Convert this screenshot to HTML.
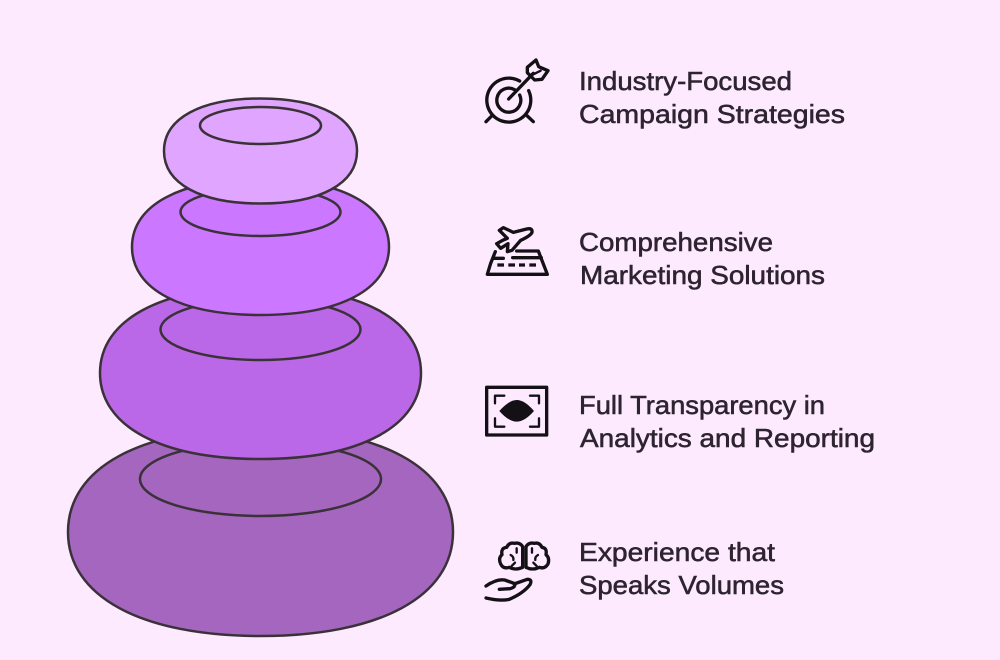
<!DOCTYPE html>
<html><head><meta charset="utf-8"><style>
html,body{margin:0;padding:0;background:#fdeaff}
svg{display:block}
text{font-family:"Liberation Sans",sans-serif;font-size:26px;fill:#2e2430;stroke:#2e2430;stroke-width:.55}
.s{stroke:#3a3238;stroke-width:2.5}
.i{fill:none;stroke:#141016;stroke-width:10;stroke-linecap:round;stroke-linejoin:round}
</style></head><body>
<svg width="1000" height="660" viewBox="0 0 1000 660" xmlns="http://www.w3.org/2000/svg">
<rect width="1000" height="660" fill="#fdeaff"/>

<path class="s" fill="#a566c0" d="M68,532C68,467.500 141.100,428 260.500,428C379.900,428 453,467.500 453,532C453,596.500 379.900,636 260.500,636C141.100,636 68,596.500 68,532Z"/>
<ellipse class="s" fill="#a566c0" cx="260.500" cy="479" rx="120.500" ry="37"/>
<path class="s" fill="#bb68e8" d="M100,373C100,319.700 161,287 260.500,287C360,287 421,319.700 421,373C421,426.300 360,459 260.500,459C161,459 100,426.300 100,373Z"/>
<ellipse class="s" fill="#bb68e8" cx="260.500" cy="329.500" rx="100" ry="30.500"/>
<path class="s" fill="#cc77ff" d="M132,247C132,204.800 180.800,179 260.500,179C340.200,179 389,204.800 389,247C389,289.200 340.200,315 260.500,315C180.800,315 132,289.200 132,247Z"/>
<ellipse class="s" fill="#cc77ff" cx="260.500" cy="212" rx="80" ry="24"/>
<path class="s" fill="#e0a6ff" d="M164,151C164,118.400 200.700,98.500 260.500,98.500C320.300,98.500 357,118.400 357,151C357,183.600 320.300,203.500 260.500,203.500C200.700,203.500 164,183.600 164,151Z"/>
<ellipse class="s" fill="#e0a6ff" cx="260.500" cy="125.500" rx="60.500" ry="18.500"/>

<g transform="translate(470,50) scale(.3333)">
<path class="i" d="M149,93A66,66 0 1 0 176,122"/>
<path class="i" d="M134,119A36,36 0 1 0 149,135"/>
<path class="i" d="M116,147L190,70M48,215L65,198M190,215L172,198"/>
<path class="i" d="M172,52L198,30L206,50L234,62L216,88L194,90L172,68Z"/>
<path class="i" style="stroke-width:7" d="M188,74L212,62"/>
</g>

<g transform="translate(470,215) scale(.3333)">
<path class="i" d="M88,46L100,38L130,52L170,42Q188,38 186,52Q182,62 152,76L126,106L112,110L114,86L92,100L80,86L98,76L112,70Z"/>
<path class="i" d="M76,110L62,145L52,178L232,178L205,108L140,108M70,130L100,130M128,128L214,128"/>
<path d="M82,150H102M115,150H135M147,150H165M178,150H198" fill="none" stroke="#141016" stroke-width="10"/>
</g>

<g transform="translate(470,375) scale(.3333)">
<rect class="i" x="50" y="37" width="180" height="143"/>
<path class="i" style="stroke-width:7" d="M75,85V62H103M180,62H207V85M75,130V155H103M207,130V155H180"/>
<path fill="#141016" d="M88,108Q118,75 140,75Q164,75 192,108Q164,140 140,140Q116,140 88,108Z"/>
</g>

<g transform="translate(470,530) scale(.3333)">
<path class="i" d="M158,112V50Q150,36 132,40Q118,36 110,52Q92,54 96,74Q84,84 92,102Q100,118 118,112Q136,122 158,112Z"/>
<path class="i" d="M168,112V50Q176,36 194,40Q208,36 216,52Q232,54 228,74Q240,84 234,102Q224,118 208,112Q188,122 168,112Z"/>
<path class="i" style="stroke-width:7" d="M140,55V68M122,75Q132,80 130,90M186,55V68M204,75Q194,80 196,90M125,108L135,98M200,108L190,98"/>
<path class="i" d="M48,168Q80,146 104,150L132,160Q140,170 120,176L88,178M132,162L172,148Q188,148 180,164Q160,190 118,208Q90,214 48,204"/>
</g>

<text x="579" y="90" textLength="213" lengthAdjust="spacingAndGlyphs">Industry-Focused</text>
<text x="579" y="123" textLength="266" lengthAdjust="spacingAndGlyphs">Campaign Strategies</text>
<text x="579" y="251" textLength="194" lengthAdjust="spacingAndGlyphs">Comprehensive</text>
<text x="580" y="284" textLength="245" lengthAdjust="spacingAndGlyphs">Marketing Solutions</text>
<text x="579" y="414" textLength="246" lengthAdjust="spacingAndGlyphs">Full Transparency in</text>
<text x="580" y="447" textLength="295" lengthAdjust="spacingAndGlyphs">Analytics and Reporting</text>
<text x="579" y="561" textLength="196" lengthAdjust="spacingAndGlyphs">Experience that</text>
<text x="579" y="594" textLength="205" lengthAdjust="spacingAndGlyphs">Speaks Volumes</text>
</svg>
</body></html>
